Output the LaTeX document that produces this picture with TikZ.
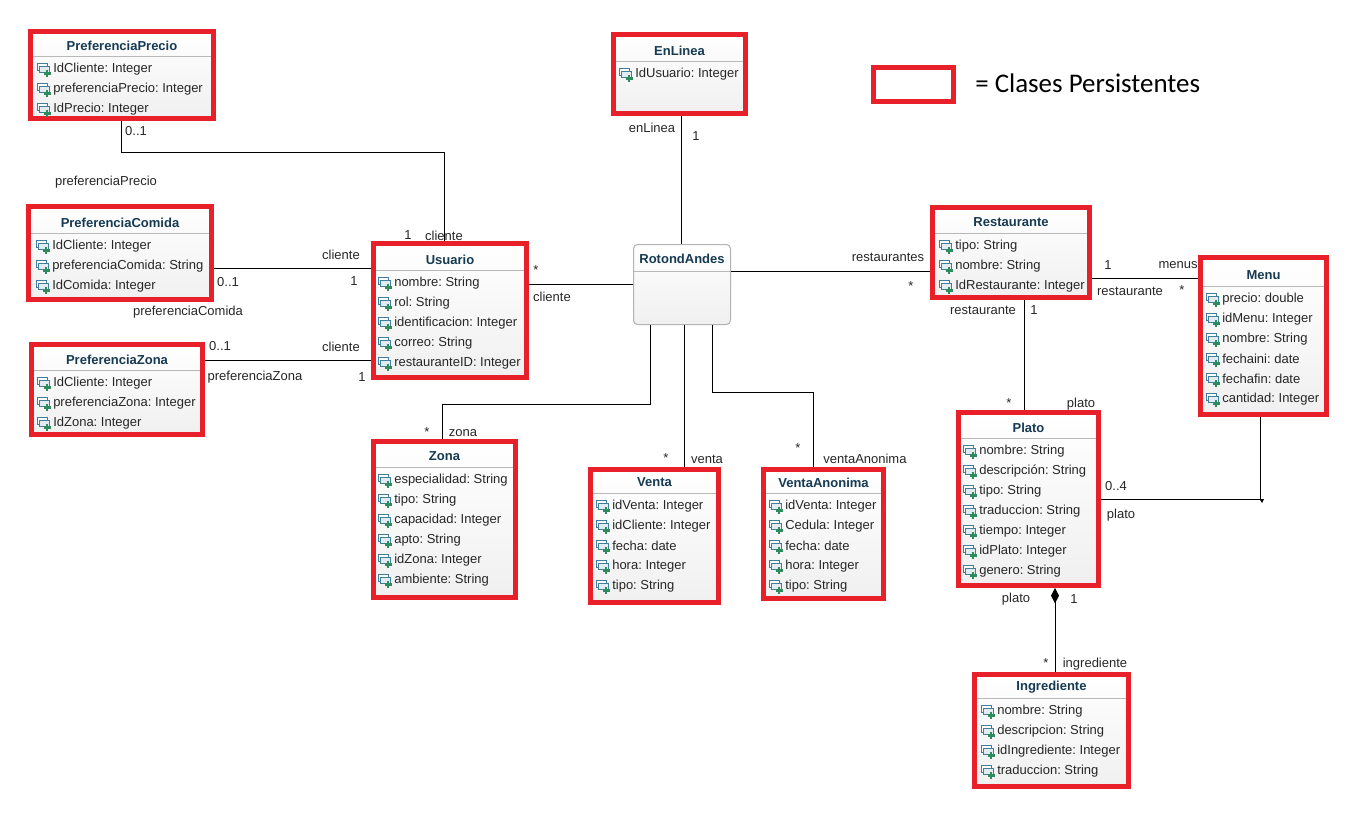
\documentclass[tikz,border=0pt]{standalone}
\usepackage{fontspec}
\usepackage{xcolor}
\usetikzlibrary{arrows.meta}
\setmainfont{Liberation Sans}
\newfontfamily\legendfont{Carlito}
\definecolor{persistred}{HTML}{E8202A}
\definecolor{titleblue}{HTML}{163A52}
\definecolor{iconblue}{HTML}{3F7F9C}
\definecolor{icongreen}{HTML}{2E8B5E}

\tikzset{
  classbox/.style={draw=persistred, line width=3.75pt, top color=white, bottom color=black!6, inner sep=0pt, anchor=north west},
  appbox/.style={draw=black!30, line width=0.75pt, rounded corners=3pt, top color=white, bottom color=black!6, inner sep=0pt, anchor=north west},
  titletext/.style={font=\fontsize{9.75}{11}\selectfont\bfseries, text=titleblue, inner sep=0pt, yshift=-0.75pt},
  attrtext/.style={font=\fontsize{9.75}{11}\selectfont, text=black!85, inner sep=0pt, anchor=west, yshift=-0.75pt},
  lbl/.style={font=\fontsize{9.75}{11}\selectfont, text=black!85, inner sep=0pt, yshift=-0.75pt},
  titlerule/.style={draw=black!28, line width=0.75pt},
  assoc/.style={draw=black, line width=0.75pt},
  attricon/.pic={
    \draw[iconblue, line width=0.7pt, fill=white] (-7,-5) rectangle (3,2);
    \draw[iconblue, line width=0.7pt, fill=iconblue!15] (-5,-2) rectangle (5,4);
    \draw[icongreen, line width=1.6pt] (0,5.5) -- (6.5,5.5) (3.25,2.25) -- (3.25,8.75);
  }
}

% {name}{x0}{y0}{x1}{y1}{text x}{first row y}{title}{attributes}
\newcommand{\classbox}[9]{
  \node[classbox, minimum width=(#4-#2-5)*0.75pt, minimum height=(#5-#3-5)*0.75pt] (#1) at (#2,#3) {};
  \node[titletext] (#1-title) at ({(#2+#4)/2},{#7-23.5}) {#8};
  \draw[titlerule] ({#2+5},{#7-11.5}) -- ({#4-5},{#7-11.5});
  \foreach \attr [count=\n] in {#9} {
    \pic at ({#6-9},{#7+20*(\n-1)}) {attricon};
    \node[attrtext] (#1-\n) at ({#6},{#7+20*(\n-1)}) {\attr};
  }
}

\begin{document}
\frenchspacing
\begin{tikzpicture}[x=0.75pt, y=-0.75pt]
  \useasboundingbox (0,0) rectangle (1355,813);

  % clases
  \classbox{Precio}{28}{29}{216}{121}{53}{68}{PreferenciaPrecio}{IdCliente: Integer, preferenciaPrecio: Integer, IdPrecio: Integer}
  \classbox{Comida}{26}{204}{214}{302}{52}{245}{PreferenciaComida}{IdCliente: Integer, preferenciaComida: String, IdComida: Integer}
  \classbox{PrefZona}{29}{342}{205}{437}{53}{382}{PreferenciaZona}{IdCliente: Integer, preferenciaZona: Integer, IdZona: Integer}
  \classbox{EnLinea}{611}{32}{748}{116}{635}{73}{EnLinea}{IdUsuario: Integer}
  \classbox{Usuario}{371}{241}{529}{380}{394}{282}{Usuario}{nombre: String, rol: String, identificacion: Integer, correo: String, restauranteID: Integer}
  \classbox{Zona}{371}{439}{518}{600}{394}{479}{Zona}{especialidad: String, tipo: String, capacidad: Integer, apto: String, idZona: Integer, ambiente: String}
  \classbox{Venta}{588}{467}{721}{605}{612}{505}{Venta}{idVenta: Integer, idCliente: Integer, fecha: date, hora: Integer, tipo: String}
  \classbox{Anonima}{761}{467}{886}{601}{785}{505}{VentaAnonima}{idVenta: Integer, Cedula: Integer, fecha: date, hora: Integer, tipo: String}
  \classbox{Restaurante}{930}{205}{1092}{300}{955}{245}{Restaurante}{tipo: String, nombre: String, IdRestaurante: Integer}
  \classbox{Menu}{1198}{255}{1329}{417}{1222}{298}{Menu}{precio: double, idMenu: Integer, nombre: String, fechaini: date, fechafin: date, cantidad: Integer}
  \classbox{Plato}{956}{410}{1101}{588}{979}{450}{Plato}{nombre: String, descripción: String, tipo: String, traduccion: String, tiempo: Integer, idPlato: Integer, genero: String}
  \classbox{Ingrediente}{972}{672}{1131}{789}{997}{710}{Ingrediente}{nombre: String, descripcion: String, idIngrediente: Integer, traduccion: String}

  % clase sin persistencia
  \node[appbox, minimum width=97*0.75pt, minimum height=80*0.75pt] (Rotond) at (633,244) {};
  \node[titletext] (Rotond-title) at (682,258) {RotondAndes};
  \draw[titlerule] (Rotond.west |- 0,271) -- (Rotond.east |- 0,271);

  % leyenda
  \node[classbox, minimum width=80*0.75pt, minimum height=34*0.75pt, top color=white, bottom color=white] (Legend) at (871,65) {};
  \node[font=\fontsize{20.2}{24}\selectfont\legendfont, inner sep=0pt, anchor=west] (LegendText) at (975,83) {= Clases Persistentes};

  % asociaciones
  \coordinate (PrecioBend) at (121,153);
  \coordinate (ZonaBend) at (442,404);
  \coordinate (AnonimaBend) at (813,392);
  \coordinate (PlatoMenu) at (1260.5,499);
  \draw[assoc] (Precio.south -| PrecioBend) -- (PrecioBend) -- (444,153) -- (Usuario.north -| 444,0);
  \draw[assoc] (Comida.east |- 0,268) -- (Usuario.west |- 0,268);
  \draw[assoc] (PrefZona.east |- 0,360) -- (Usuario.west |- 0,360);
  \draw[assoc] (Usuario.east |- 0,284) -- (Rotond.west |- 0,284);
  \draw[assoc] (EnLinea.south -| 681,0) -- (Rotond.north -| 681,0);
  \draw[assoc] (Rotond.east |- 0,271) -- (Restaurante.west |- 0,271);
  \draw[assoc] (Restaurante.east |- 0,278) -- (Menu.west |- 0,278);
  \draw[assoc] (Restaurante.south -| 1024.5,0) -- (Plato.north -| 1024.5,0);
  \draw[assoc] (Plato.east |- PlatoMenu) -- (PlatoMenu) -- (PlatoMenu |- Menu.south);
  \fill (1259.5,499) -- (1264,499) -- (1262,503) -- cycle;
  \draw[assoc, {Diamond[length=11.5pt,width=6pt]}-] (Plato.south -| 1055,0) -- (Ingrediente.north -| 1055,0);
  \draw[assoc] (Rotond.south -| 650,0) -- (650,404) -- (ZonaBend) -- (Zona.north -| ZonaBend);
  \draw[assoc] (Rotond.south -| 684,0) -- (Venta.north -| 684,0);
  \draw[assoc] (Rotond.south -| 712,0) -- (712,392) -- (AnonimaBend) -- (Anonima.north -| AnonimaBend);

  % etiquetas
  \foreach \lx/\ly/\ltext [count=\i] in {
    136/130/0..1, 106/181/preferenciaPrecio, 408/234/1, 444/235/cliente,
    341/254/cliente, 354/280/1, 228/281/0..1, 188/311/preferenciaComida,
    220/345/0..1, 341/346/cliente, 255/376/preferenciaZona, 362/376/1,
    536/269/*, 552/296/cliente, 652/127/enLinea, 696/135/1,
    888/256/restaurantes, 911/285/*, 1108/264/1, 1178/264/menus,
    1130/290/restaurante, 1182/289/*, 983/309/restaurante, 1034/309/1,
    1009/402/*, 1081/403/plato, 427/431/*, 463/432/zona,
    666/457/*, 707/458/venta, 798/447/*, 865/458/ventaAnonima,
    1116/485/0..4, 1121/514/plato, 1016/598/plato, 1074/598/1,
    1046/662/*, 1095/663/ingrediente} {
    \node[lbl] (lab\i) at (\lx,\ly) {\ltext};
  }
\end{tikzpicture}
\end{document}
